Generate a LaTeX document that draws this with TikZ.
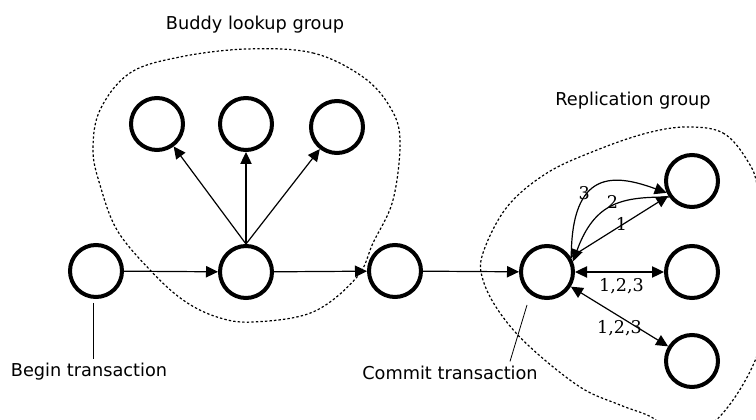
\documentclass[tikz,border=0pt]{standalone}
\usepackage{fontspec}
\setmainfont{DejaVu Sans}
\newfontfamily\numfont{DejaVu Serif}
\usetikzlibrary{arrows.meta}

\begin{document}
\begin{tikzpicture}[x=0.75pt,y=0.75pt,
	peer/.style={draw,circle,line width=3pt,minimum size=39pt,inner sep=0pt},
	link/.style={-{Triangle[length=9pt,width=8.5pt]},line width=0.9pt},
	dlink/.style={{Triangle[length=9pt,width=8.5pt]}-{Triangle[length=9pt,width=8.5pt]},line width=0.9pt},
	blob/.style={line width=0.9pt,dash pattern=on 1.8pt off 1.6pt},
	lbl/.style={font=\fontsize{13.3}{16}\selectfont},
	num/.style={font=\numfont\fontsize{13.2}{15}\selectfont,inner sep=1pt}]
				\useasboundingbox (0,0) rectangle (756,420);
				\clip (0,0) rectangle (756,420);
				% groups
				\draw[blob] plot[smooth cycle,tension=0.6] coordinates {(247,371) (313,367) (363,343) (390,313) (400,280) (393,220) (373,177) (357,143) (313,108) (253,98) (217,103) (183,120) (150,150) (117,190) (100,235) (93,270) (100,310) (130,347) (180,363)};
				\draw[blob] plot[smooth cycle,tension=0.6] coordinates {(687,293) (723,287) (747,260) (758,230) (766,150) (760,73) (723,7) (680,-20) (653,2) (620,15) (580,33) (530,73) (500,107) (483,140) (483,167) (507,213) (547,247) (597,270) (647,287)};
				\node[lbl] (buddytitle) at (255,395) {Buddy lookup group};
				\node[lbl] (reptitle) at (633,319) {Replication group};
				% peers
				\node[peer] (begin) at (96,149) {};
				\node[peer] (bc) at (246,148) {};
				\node[peer] (b1) at (157,296) {};
				\node[peer] (b2) at (246,296) {};
				\node[peer] (b3) at (337,293) {};
				\node[peer] (fwd) at (395,149) {};
				\node[peer] (commit) at (547,148) {};
				\node[peer] (r1) at (692,239) {};
				\node[peer] (r2) at (692,148) {};
				\node[peer] (r3) at (692,59) {};
				\draw[link] (begin) -- (bc);
				\draw[link] (bc) -- (fwd);
				\draw[link] (fwd) -- (commit);
				\foreach \b in {b1,b2,b3}
					\draw[link] (bc.north) -- (\b);
				% replication rounds
				\draw[link] (commit) -- (r1) node[num,midway,xshift=1.5pt,yshift=2pt] {1};
				\draw[link] (commit.30) .. controls +(90:90) and +(160:55) .. node[num,pos=.33,yshift=3pt] {3} (r1.205);
				\draw[link] (r1.215) .. controls +(180:45) and +(70:65) .. node[num,pos=.5,yshift=3pt] {2} (commit.22);
				\draw[dlink] (commit) -- (r2) node[num,midway,xshift=1.5pt,yshift=-10.5pt] {1,2,3};
				\draw[dlink] (commit) -- (r3) node[num,midway,yshift=-9pt] {1,2,3};
				% notes
				\node[lbl] (btext) at (89,48) {Begin transaction};
				\node[lbl] (ctext) at (450,47) {Commit transaction};
				\coordinate (cpin) at (527,115);
				\draw[line width=0.6pt] ([xshift=-2.25pt,yshift=-3pt]begin.south) -- ([xshift=-2.25pt]begin.south |- btext.north);
				\draw[line width=0.6pt] (cpin) -- ([xshift=45pt]ctext.north);
			\end{tikzpicture}
\end{document}
